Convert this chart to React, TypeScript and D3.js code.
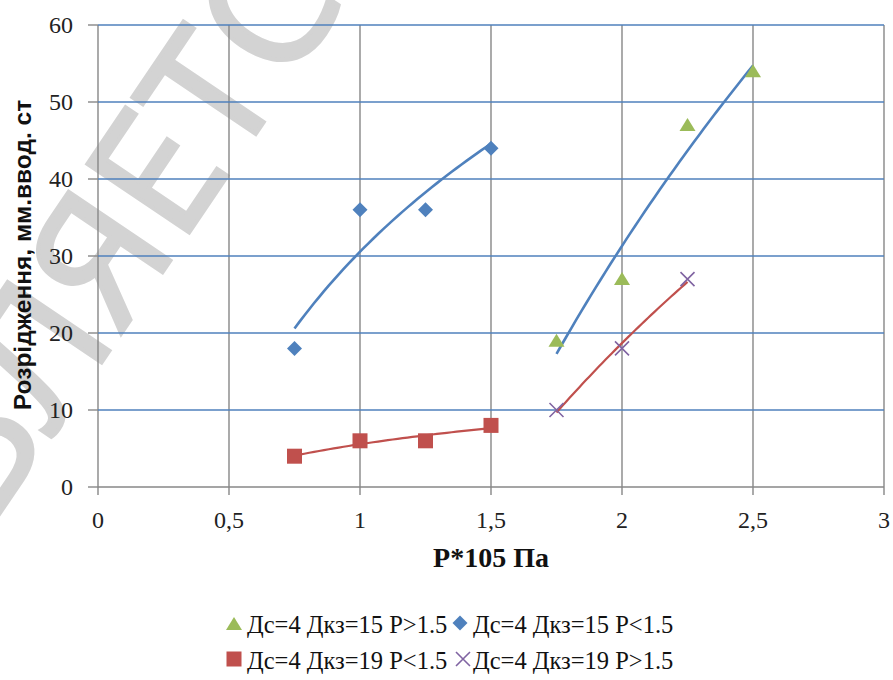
import React from 'react';
import * as d3 from 'd3';

// tick values
const xTicks = [0, 0.5, 1, 1.5, 2, 2.5, 3];
const xTickLabels = ['0', '0,5', '1', '1,5', '2', '2,5', '3'];
const yTicks = [0, 10, 20, 30, 40, 50, 60];

// pressure values (x)
const pLow = [0.75, 1, 1.25, 1.5];
const pHigh = [1.75, 2, 2.25, 2.5];
const pHigh19 = [1.75, 2, 2.25];

// rarefaction values (y)
const d15High = [19, 27, 47, 54]; // triangles
const d15Low = [18, 36, 36, 44]; // diamonds
const d19Low = [4, 6, 6, 8]; // squares
const d19High = [10, 18, 27]; // crosses

const legendLabels = [
  'Дс=4 Дкз=15 Р>1.5',
  'Дс=4 Дкз=15 Р<1.5',
  'Дс=4 Дкз=19 Р<1.5',
  'Дс=4 Дкз=19 Р>1.5',
];

const BLUE = '#4F81BD';
const RED = '#C0504D';
const GREEN = '#9BBB59';
const PURPLE = '#8064A2';
const GRID = '#878787';

// logarithmic trend line, as the spreadsheet draws it
const logFit = (xs: number[], ys: number[]) => {
  const lx = xs.map(Math.log);
  const mx = d3.mean(lx) as number;
  const my = d3.mean(ys) as number;
  const b = d3.sum(lx, (v, i) => (v - mx) * (ys[i] - my)) / d3.sum(lx, v => (v - mx) ** 2);
  const a = my - b * mx;
  return (x: number) => a + b * Math.log(x);
};

const x = d3.scaleLinear().domain([0, 3]).range([98, 884]);
const y = d3.scaleLinear().domain([0, 60]).range([487, 25]);

const trendPath = (xs: number[], ys: number[]) => {
  const f = logFit(xs, ys);
  const [lo, hi] = d3.extent(xs) as [number, number];
  const pts = d3.range(0, 41).map(i => lo + (hi - lo) * i / 40);
  return d3.line<number>().x(v => x(v)).y(v => y(f(v)))(pts) as string;
};

const Triangle = ({ cx, cy }: { cx: number; cy: number }) => (
  <path d={`M${cx},${cy - 7}L${cx + 8},${cy + 6}L${cx - 8},${cy + 6}Z`} fill={GREEN} />
);
const Diamond = ({ cx, cy }: { cx: number; cy: number }) => (
  <path d={`M${cx},${cy - 7.5}L${cx + 7.5},${cy}L${cx},${cy + 7.5}L${cx - 7.5},${cy}Z`} fill={BLUE} />
);
const Square = ({ cx, cy }: { cx: number; cy: number }) => (
  <rect x={cx - 7.5} y={cy - 7.5} width={15} height={15} fill={RED} />
);
const Cross = ({ cx, cy }: { cx: number; cy: number }) => (
  <path d={`M${cx - 7},${cy - 7}L${cx + 7},${cy + 7}M${cx + 7},${cy - 7}L${cx - 7},${cy + 7}`}
    stroke={PURPLE} strokeWidth={1.6} fill="none" />
);

const App = () => {
  const serif = '"Liberation Serif", "DejaVu Serif", serif';
  const sans = '"Liberation Sans", Arial, sans-serif';
  return (
    <svg width={893} height={680} style={{ position: 'absolute', left: 0, top: 0, background: '#fff' }}>
      {/* watermark */}
      <text transform="translate(168,264) rotate(-56)" textAnchor="middle"
        fontFamily='"Open Sans", "Noto Sans", sans-serif' fontSize={172}
        fill="#d3d3d3" stroke="#d3d3d3" strokeWidth={4}>ВЛЯЕТС</text>

      {/* vertical grid */}
      {xTicks.map(t => (
        <line key={'vx' + t} x1={x(t)} x2={x(t)} y1={y(60)} y2={y(0) + 8} stroke={GRID} strokeWidth={1.4} />
      ))}
      {/* horizontal grid */}
      {yTicks.map(t => (
        <g key={'hy' + t}>
          <line x1={x(0) - 10} x2={x(0)} y1={y(t)} y2={y(t)} stroke={GRID} strokeWidth={1.4} />
          <line x1={x(0)} x2={x(3)} y1={y(t)} y2={y(t)} stroke={t === 0 ? GRID : BLUE} strokeWidth={1.5} />
        </g>
      ))}

      {/* tick labels */}
      {yTicks.map(t => (
        <text key={'yl' + t} x={73} y={y(t) + 8} textAnchor="end" fontFamily={serif} fontSize={24} fill="#222">{t}</text>
      ))}
      {xTicks.map((t, i) => (
        <text key={'xl' + t} x={x(t)} y={528} textAnchor="middle" fontFamily={serif} fontSize={24} fill="#222">{xTickLabels[i]}</text>
      ))}

      {/* trend lines */}
      <path d={trendPath(pLow, d15Low)} fill="none" stroke={BLUE} strokeWidth={2.6} />
      <path d={trendPath(pHigh, d15High)} fill="none" stroke={BLUE} strokeWidth={2.6} />
      <path d={trendPath(pLow, d19Low)} fill="none" stroke={RED} strokeWidth={2.2} />
      <path d={trendPath(pHigh19, d19High)} fill="none" stroke={RED} strokeWidth={2.2} />

      {/* markers */}
      {pHigh.map((p, i) => <Triangle key={'t' + i} cx={x(p)} cy={y(d15High[i])} />)}
      {pLow.map((p, i) => <Diamond key={'d' + i} cx={x(p)} cy={y(d15Low[i])} />)}
      {pLow.map((p, i) => <Square key={'s' + i} cx={x(p)} cy={y(d19Low[i])} />)}
      {pHigh19.map((p, i) => <Cross key={'c' + i} cx={x(p)} cy={y(d19High[i])} />)}

      {/* axis titles */}
      <text x={491} y={567} textAnchor="middle" fontFamily={serif} fontWeight="bold" fontSize={28} fill="#111">P*105 Па</text>
      <text transform="translate(31,255) rotate(-90)" textAnchor="middle"
        fontFamily={sans} fontWeight="bold" fontSize={24.5} fill="#111">
        Розрідження, мм.ввод. ст
      </text>

      {/* legend */}
      <Triangle cx={234} cy={624} />
      <text x={247} y={633} fontFamily={serif} fontSize={24.5} fill="#111">{legendLabels[0]}</text>
      <Diamond cx={460} cy={623} />
      <text x={473} y={633} fontFamily={serif} fontSize={24.5} fill="#111">{legendLabels[1]}</text>
      <Square cx={234} cy={659} />
      <text x={247} y={669} fontFamily={serif} fontSize={24.5} fill="#111">{legendLabels[2]}</text>
      <Cross cx={463} cy={659} />
      <text x={473} y={669} fontFamily={serif} fontSize={24.5} fill="#111">{legendLabels[3]}</text>
    </svg>
  );
};

export default App;
